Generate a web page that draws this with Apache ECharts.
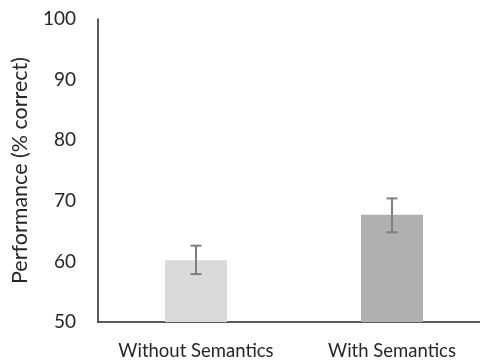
<!DOCTYPE html>
<html><head><meta charset="utf-8">
<script src="https://cdn.jsdelivr.net/npm/echarts@6/dist/echarts.min.js"></script>
<style>html,body{margin:0;padding:0;background:#fff}#c{width:480px;height:361px}</style>
</head><body><div id="c"></div>
<script>
var categories = ['Without Semantics', 'With Semantics'];
var means = [60.2, 67.7];
var errLow = [57.9, 64.8];
var errHigh = [62.6, 70.4];
var barColors = ['#dadadb', '#b0b0b1'];
var yTicks = [50, 60, 70, 80, 90, 100];

var chart = echarts.init(document.getElementById('c'), null, {renderer: 'canvas'});
var font = 'Lato, sans-serif';
chart.setOption({
  animation: false,
  grid: {left: 98, top: 19, width: 392, height: 303, containLabel: false, outerBoundsMode: 'none'},
  xAxis: {
    type: 'category', data: categories,
    axisLine: {lineStyle: {color: '#262626', width: 1.5}},
    axisTick: {show: false},
    axisLabel: {color: '#262626', fontSize: 18.5, fontFamily: font, margin: 20, interval: 0, hideOverlap: false}
  },
  yAxis: {
    type: 'value', min: yTicks[0], max: yTicks[yTicks.length - 1], interval: 10,
    name: 'Performance (% correct)', nameLocation: 'middle', nameGap: 67,
    nameTextStyle: {color: '#262626', fontSize: 21.5, fontFamily: font},
    axisLine: {show: true, lineStyle: {color: '#262626', width: 1.5}},
    axisTick: {show: false},
    splitLine: {show: false},
    axisLabel: {color: '#262626', fontSize: 19, fontFamily: font, margin: 22}
  },
  series: [{
    type: 'bar', barWidth: 62,
    data: means.map(function (v, i) { return {value: v, itemStyle: {color: barColors[i]}}; })
  }, {
    type: 'custom', z: 10,
    data: categories.map(function (c, i) { return [i, errLow[i], errHigh[i]]; }),
    renderItem: function (params, api) {
      var lo = api.coord([api.value(0), api.value(1)]);
      var hi = api.coord([api.value(0), api.value(2)]);
      var hw = 5.5;
      var st = {stroke: '#7f7f7f', lineWidth: 2};
      return {type: 'group', children: [
        {type: 'line', shape: {x1: lo[0], y1: lo[1], x2: hi[0], y2: hi[1]}, style: st},
        {type: 'line', shape: {x1: lo[0] - hw, y1: lo[1], x2: lo[0] + hw, y2: lo[1]}, style: st},
        {type: 'line', shape: {x1: hi[0] - hw, y1: hi[1], x2: hi[0] + hw, y2: hi[1]}, style: st}
      ]};
    }
  }]
});
</script></body></html>
